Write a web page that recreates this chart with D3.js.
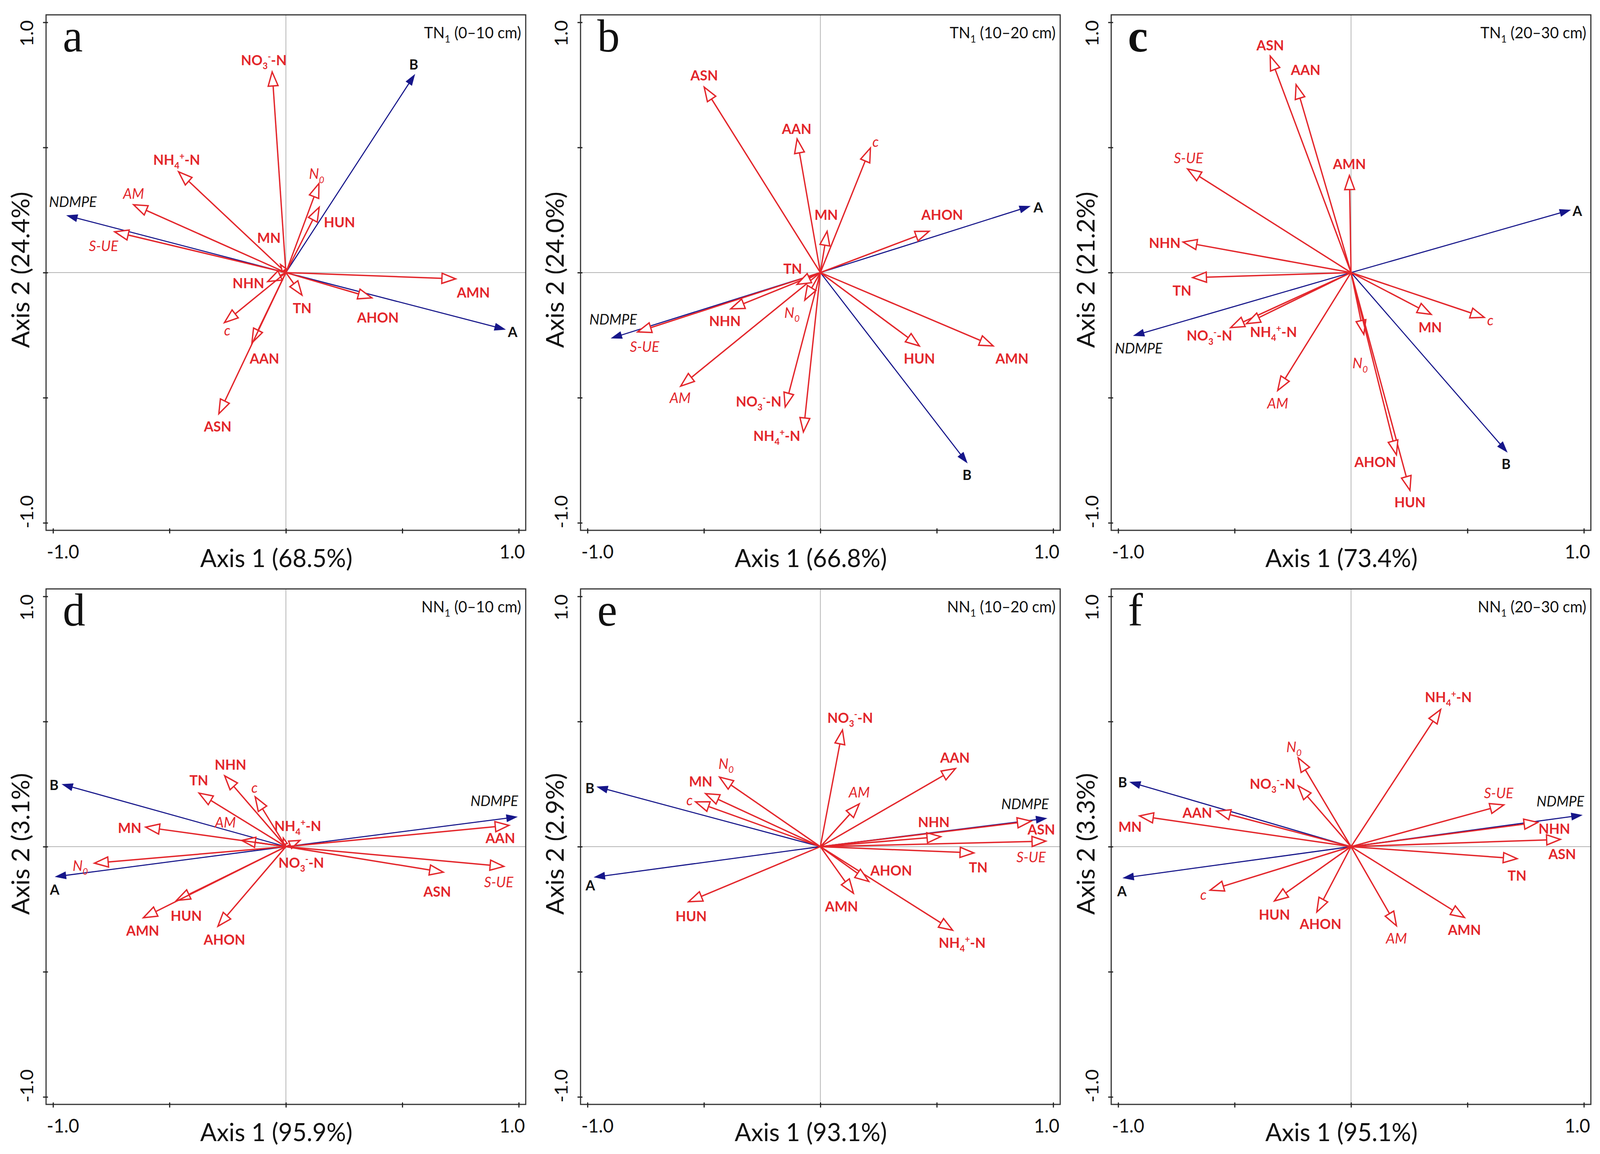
<!DOCTYPE html>
<html>
<head>
<meta charset="utf-8">
<script src="https://cdn.jsdelivr.net/npm/d3@7"></script>
<style>
  html, body { margin: 0; padding: 0; background: #fff; overflow: hidden; width: 100%; height: 100%; }
  #chart { display: block; width: 100vw; height: 100vh; }
  text { font-family: Lato, "Open Sans", sans-serif; }
</style>
</head>
<body>
<svg id="chart" viewBox="0 0 4203 2955" preserveAspectRatio="none"></svg>
<script>
// variables shown as vectors (same order in every panel)
var variables = ["A", "B", "NDMPE", "NO3", "NH4", "AM", "S-UE", "N0", "HUN", "MN", "NHN", "TN", "AMN", "AHON", "c", "AAN", "ASN"];
var blueVars = ["A", "B", "NDMPE"];
var italicVars = ["NDMPE", "AM", "S-UE", "N0", "c"];

var panelLetters = ["a", "b", "c", "d", "e", "f"];
var panelSites = ["TN", "TN", "TN", "NN", "NN", "NN"];
var panelDepths = ["(0\u201310 cm)", "(10\u201320 cm)", "(20\u201330 cm)", "(0\u201310 cm)", "(10\u201320 cm)", "(20\u201330 cm)"];
var axis1Pct = ["68.5%", "66.8%", "73.4%", "95.9%", "93.1%", "95.1%"];
var axis2Pct = ["24.4%", "24.0%", "21.2%", "3.1%", "2.9%", "3.3%"];
var tickValues = [-1, -0.5, 0, 0.5, 1];
var tickLabels = ["-1.0", "1.0"];

// panel a : TN1 0-10 cm
var aX = [0.941, 0.553, -0.940, -0.059, -0.461, -0.654, -0.735, 0.142, 0.143, -0.023, -0.078, 0.069, 0.729, 0.369, -0.264, -0.146, -0.288];
var aY = [-0.227, 0.791, 0.228, 0.802, 0.403, 0.271, 0.163, 0.356, 0.261, 0.032, -0.036, -0.090, -0.025, -0.101, -0.200, -0.281, -0.564];
var aLabX = [0.974, 0.549, -0.915, -0.095, -0.469, -0.654, -0.783, 0.132, 0.230, -0.073, -0.161, 0.070, 0.805, 0.395, -0.252, -0.092, -0.293];
var aLabY = [-0.237, 0.832, 0.283, 0.849, 0.451, 0.315, 0.107, 0.395, 0.202, 0.139, -0.042, -0.142, -0.079, -0.179, -0.230, -0.343, -0.615];

// panel b : TN1 10-20 cm
var bX = [0.900, 0.630, -0.897, -0.151, -0.073, -0.600, -0.785, -0.067, 0.425, 0.029, -0.385, -0.100, 0.742, 0.467, 0.215, -0.100, -0.499];
var bY = [0.265, -0.760, -0.262, -0.537, -0.637, -0.454, -0.237, -0.110, -0.293, 0.165, -0.145, -0.047, -0.293, 0.165, 0.498, 0.534, 0.741];
var bLabX = [0.936, 0.630, -0.890, -0.265, -0.187, -0.602, -0.755, -0.122, 0.425, 0.025, -0.410, -0.119, 0.823, 0.523, 0.237, -0.102, -0.499];
var bLabY = [0.261, -0.808, -0.186, -0.515, -0.652, -0.501, -0.296, -0.160, -0.343, 0.231, -0.193, 0.015, -0.343, 0.231, 0.524, 0.575, 0.788];

// panel c : TN1 20-30 cm
var cX = [0.941, 0.670, -0.933, -0.517, -0.449, -0.315, -0.702, 0.055, 0.253, 0.344, -0.721, -0.680, -0.007, 0.195, 0.572, -0.236, -0.347];
var cY = [0.250, -0.717, -0.252, -0.220, -0.204, -0.471, 0.414, -0.247, -0.870, -0.167, 0.122, -0.020, 0.388, -0.728, -0.179, 0.751, 0.865];
var cLabX = [0.972, 0.666, -0.912, -0.608, -0.333, -0.315, -0.698, 0.039, 0.253, 0.340, -0.800, -0.726, -0.007, 0.104, 0.598, -0.195, -0.347];
var cLabY = [0.247, -0.764, -0.303, -0.252, -0.237, -0.523, 0.458, -0.362, -0.918, -0.218, 0.119, -0.072, 0.433, -0.757, -0.190, 0.810, 0.908];

// panel d : NN1 0-10 cm
var dX = [-0.989, -0.960, 0.992, -0.011, 0.060, -0.190, 0.936, -0.822, -0.470, -0.602, -0.263, -0.373, -0.612, -0.292, -0.132, 0.958, 0.676];
var dY = [-0.120, 0.249, 0.119, 0.034, 0.025, 0.025, -0.079, -0.066, -0.215, 0.078, 0.283, 0.214, -0.284, -0.318, 0.199, 0.085, -0.102];
var dLabX = [-0.993, -0.996, 0.895, 0.066, 0.051, -0.260, 0.914, -0.883, -0.428, -0.671, -0.238, -0.374, -0.615, -0.264, -0.135, 0.921, 0.650];
var dLabY = [-0.171, 0.246, 0.183, -0.064, 0.083, 0.097, -0.142, -0.076, -0.277, 0.075, 0.327, 0.265, -0.335, -0.372, 0.236, 0.034, -0.179];

// panel e : NN1 10-20 cm
var eX = [-0.970, -0.958, 0.971, 0.095, 0.568, 0.167, 0.968, -0.433, -0.566, -0.493, 0.517, 0.659, 0.142, 0.208, -0.536, 0.580, 0.905];
var eY = [-0.122, 0.239, 0.113, 0.466, -0.334, 0.171, 0.022, 0.278, -0.220, 0.212, 0.040, -0.025, -0.186, -0.139, 0.179, 0.312, 0.102];
var eLabX = [-0.988, -0.990, 0.879, 0.128, 0.609, 0.167, 0.905, -0.405, -0.555, -0.514, 0.487, 0.678, 0.091, 0.304, -0.562, 0.578, 0.949];
var eLabY = [-0.154, 0.234, 0.171, 0.515, -0.384, 0.217, -0.041, 0.332, -0.278, 0.261, 0.098, -0.083, -0.239, -0.095, 0.186, 0.356, 0.069];

// panel f : NN1 20-30 cm
var fX = [-0.978, -0.949, 0.991, -0.227, 0.385, 0.195, 0.656, -0.227, -0.329, -0.908, 0.802, 0.713, 0.487, -0.147, -0.605, -0.577, 0.899];
var fY = [-0.125, 0.258, 0.126, 0.243, 0.548, -0.316, 0.167, 0.355, -0.217, 0.123, 0.097, -0.048, -0.283, -0.261, -0.174, 0.142, 0.029];
var fLabX = [-0.984, -0.981, 0.899, -0.337, 0.418, 0.195, 0.634, -0.245, -0.329, -0.949, 0.873, 0.713, 0.487, -0.131, -0.634, -0.660, 0.907];
var fLabY = [-0.178, 0.257, 0.181, 0.251, 0.597, -0.367, 0.214, 0.399, -0.271, 0.080, 0.072, -0.116, -0.333, -0.309, -0.191, 0.135, -0.029];

var loadX = [aX, bX, cX, dX, eX, fX];
var loadY = [aY, bY, cY, dY, eY, fY];
var labX = [aLabX, bLabX, cLabX, dLabX, eLabX, fLabX];
var labY = [aLabY, bLabY, cLabY, dLabY, eLabY, fLabY];

var RED = "#e3262b", BLUE = "#16168a";

var svg = d3.select("#chart");
var colCenters = [751, 2155, 3549];
var rowCenters = [698, 2168];
var halfW = 630, halfH = 660;

// text pieces with sub / superscripts
function labelParts(name) {
	if (name == "NO3") return [["NO", 0], ["3", 1], ["-", -1], ["-N", 0]];
	if (name == "NH4") return [["NH", 0], ["4", 1], ["+", -1], ["-N", 0]];
	if (name == "N0") return [["N", 0], ["0", 1]];
	return [[name, 0]];
}

function writeParts(t, parts, fs) {
	var cur = 0;
	parts.forEach(function(p) {
		var off = p[1] == 1 ? 0.28 * fs : (p[1] == -1 ? -0.38 * fs : 0);
		var ts = t.append("tspan").attr("dy", off - cur).text(p[0]);
		if (p[1] != 0) ts.attr("font-size", Math.round(fs * 0.65));
		cur = off;
	});
}

function head(x1, y1, x2, y2, len, half) {
	var dx = x2 - x1, dy = y2 - y1, d = Math.hypot(dx, dy);
	var k = Math.min(1, d * 0.7 / len);
	len *= k; half *= k;
	var ux = dx / d, uy = dy / d;
	var bx = x2 - ux * len, by = y2 - uy * len;
	return { bx: bx, by: by,
		pts: [[x2, y2], [bx - uy * half, by + ux * half], [bx + uy * half, by - ux * half]] };
}

panelLetters.forEach(function(letter, p) {
	var cx = colCenters[p % 3], cy = rowCenters[Math.floor(p / 3)];
	var x = d3.scaleLinear().domain([-1.03, 1.03]).range([cx - halfW, cx + halfW]);
	var y = d3.scaleLinear().domain([-1.03, 1.03]).range([cy + halfH, cy - halfH]);
	var g = svg.append("g");
	var left = cx - halfW, right = cx + halfW, top = cy - halfH, bottom = cy + halfH;

	// zero lines
	g.append("line").attr("x1", left).attr("x2", right).attr("y1", y(0)).attr("y2", y(0))
		.attr("stroke", "#b4b4b4").attr("stroke-width", 2);
	g.append("line").attr("x1", x(0)).attr("x2", x(0)).attr("y1", top).attr("y2", bottom)
		.attr("stroke", "#b4b4b4").attr("stroke-width", 2);

	// box
	g.append("rect").attr("x", left).attr("y", top).attr("width", right - left).attr("height", bottom - top)
		.attr("fill", "none").attr("stroke", "#333").attr("stroke-width", 3);

	// axes (ticks only, crossing the frame)
	var xa = g.append("g").attr("transform", "translate(0," + bottom + ")")
		.call(d3.axisBottom(x).tickValues(tickValues).tickSize(8).tickSizeOuter(0).tickFormat(""));
	xa.select(".domain").remove();
	xa.selectAll(".tick line").attr("y1", -5).attr("stroke", "#222").attr("stroke-width", 3);
	var ya = g.append("g").attr("transform", "translate(" + left + ",0)")
		.call(d3.axisLeft(y).tickValues(tickValues).tickSize(8).tickSizeOuter(0).tickFormat(""));
	ya.select(".domain").remove();
	ya.selectAll(".tick line").attr("x1", 5).attr("stroke", "#222").attr("stroke-width", 3);

	// tick labels at the ends
	g.append("text").attr("x", left + 2).attr("y", bottom + 72).attr("font-size", 48)
		.attr("fill", "#111").text(tickLabels[0]);
	g.append("text").attr("x", right - 2).attr("y", bottom + 72).attr("font-size", 48)
		.attr("text-anchor", "end").attr("fill", "#111").text(tickLabels[1]);
	g.append("text").attr("transform", "translate(" + (left - 34) + "," + (top + 14) + ") rotate(-90)")
		.attr("font-size", 48).attr("text-anchor", "end").attr("fill", "#111").text(tickLabels[1]);
	g.append("text").attr("transform", "translate(" + (left - 34) + "," + (bottom - 5) + ") rotate(-90)")
		.attr("font-size", 48).attr("text-anchor", "start").attr("fill", "#111").text(tickLabels[0]);

	// axis titles
	g.append("text").attr("x", cx - 25).attr("y", bottom + 94).attr("font-size", 64)
		.attr("text-anchor", "middle").attr("fill", "#111").text("Axis 1 (" + axis1Pct[p] + ")");
	g.append("text").attr("transform", "translate(" + (left - 44) + "," + (cy - 7) + ") rotate(-90)")
		.attr("font-size", 64).attr("text-anchor", "middle").attr("fill", "#111").text("Axis 2 (" + axis2Pct[p] + ")");

	// panel letter and header
	g.append("text").attr("x", left + 44).attr("y", top + 94).attr("font-size", 118)
		.attr("font-weight", letter == "c" ? "bold" : "normal")
		.style("font-family", "'Liberation Serif', 'DejaVu Serif', serif").attr("fill", "#111").text(letter);
	var ht = g.append("text").attr("x", right - 12).attr("y", top + 60).attr("font-size", 40)
		.attr("text-anchor", "end").attr("fill", "#111");
	writeParts(ht, [[panelSites[p], 0], ["1", 1], [" " + panelDepths[p], 0]], 40);

	var vecs = variables.map(function(v, i) {
		return { name: v, x: loadX[p][i], y: loadY[p][i], lx: labX[p][i], ly: labY[p][i],
			blue: blueVars.indexOf(v) >= 0, italic: italicVars.indexOf(v) >= 0 };
	});

	// blue vectors first, then red
	var ordered = vecs.filter(function(d) { return d.blue; }).concat(vecs.filter(function(d) { return !d.blue; }));
	ordered.forEach(function(d) {
		var x0 = x(0), y0 = y(0), x1 = x(d.x), y1 = y(d.y);
		var h = d.blue ? head(x0, y0, x1, y1, 27, 9) : head(x0, y0, x1, y1, 36, 13);
		var col = d.blue ? BLUE : RED;
		g.append("line").attr("x1", x0).attr("y1", y0).attr("x2", h.bx).attr("y2", h.by)
			.attr("stroke", col).attr("stroke-width", d.blue ? 2.8 : 3.5);
		g.append("polygon").attr("points", h.pts.map(function(q) { return q.join(","); }).join(" "))
			.attr("fill", d.blue ? BLUE : "#fff").attr("stroke", col)
			.attr("stroke-width", d.blue ? 1.5 : 3.5).attr("stroke-linejoin", "miter");
	});

	// labels
	vecs.forEach(function(d) {
		var fs = d.italic ? 37 : 36;
		var t = g.append("text").attr("x", x(d.lx)).attr("y", y(d.ly) + fs * 0.36)
			.attr("font-size", fs).attr("text-anchor", "middle")
			.attr("font-style", d.italic ? "italic" : "normal")
			.attr("font-weight", d.italic ? "normal" : "bold")
			.attr("fill", d.blue ? "#111" : RED);
		writeParts(t, labelParts(d.name), fs);
	});
});
</script>
</body>
</html>
